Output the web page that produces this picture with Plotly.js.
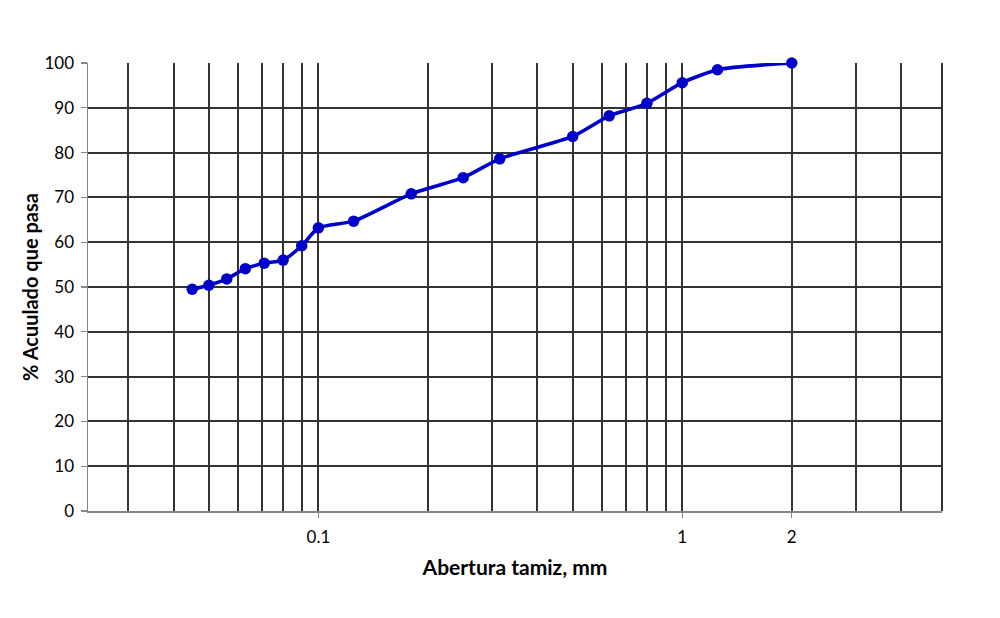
<!DOCTYPE html>
<html>
<head>
<meta charset="utf-8">
<script src="https://cdn.plot.ly/plotly-3.0.1.min.js"></script>
<style>html,body{margin:0;padding:0;background:#fff;}#chart{width:1000px;height:618px;}</style>
</head>
<body>
<div id="chart"></div>
<script>
// Sieve openings (mm) and cumulative % passing
const abertura = [0.045, 0.05, 0.056, 0.063, 0.071, 0.08, 0.09, 0.1, 0.125, 0.18, 0.25, 0.315, 0.5, 0.63, 0.8, 1, 1.25, 2];
const pasa     = [49.5, 50.4, 51.8, 54.1, 55.3, 56.0, 59.2, 63.2, 64.7, 70.8, 74.4, 78.6, 83.6, 88.2, 91.0, 95.6, 98.5, 100];
const xTickVals = [0.1, 1, 2];
const xTickText = ['0.1', '1', '2'];
const xMinorVals = [0.03, 0.04, 0.05, 0.06, 0.07, 0.08, 0.09, 0.2, 0.3, 0.4, 0.5, 0.6, 0.7, 0.8, 0.9, 3, 4];
const yTickVals = [0, 10, 20, 30, 40, 50, 60, 70, 80, 90, 100];

const FONT = 'Lato, "Open Sans", "Liberation Sans", sans-serif';
const GRID = '#333333';

const trace = {
  x: abertura, y: pasa, type: 'scatter', mode: 'lines+markers',
  line: {color: '#0000C8', width: 3.6, shape: 'spline', smoothing: 0.6},
  marker: {color: '#0000C8', size: 11.5},
  cliponaxis: false,
  hoverinfo: 'x+y'
};

const layout = {
  width: 1000, height: 618,
  margin: {l: 88, r: 58, t: 63, b: 107},
  paper_bgcolor: '#ffffff', plot_bgcolor: '#ffffff',
  showlegend: false,
  font: {family: FONT, size: 17, color: '#000'},
  xaxis: {
    type: 'log',
    range: [-1.6332, 0.714],
    tickvals: xTickVals, ticktext: xTickText,
    ticks: 'outside', ticklen: 5, tickcolor: '#868686', tickwidth: 1.3,
    ticklabelstandoff: 5,
    showgrid: true, gridcolor: GRID, gridwidth: 2,
    minor: {tickvals: xMinorVals, showgrid: true, gridcolor: GRID, gridwidth: 2, ticks: ''},
    showline: true, linecolor: '#868686', linewidth: 1.5,
    zeroline: false,
    tickfont: {family: FONT, size: 17, color: '#000'},
    title: {text: '<b>Abertura tamiz, mm</b>', font: {family: FONT, size: 21, color: '#000'}, standoff: 14}
  },
  yaxis: {
    range: [0, 100],
    tickvals: yTickVals,
    ticks: 'outside', ticklen: 6, tickcolor: '#868686', tickwidth: 1.3,
    ticklabelstandoff: 3,
    showgrid: true, gridcolor: GRID, gridwidth: 2,
    showline: true, linecolor: '#868686', linewidth: 1.5,
    zeroline: false,
    tickfont: {family: FONT, size: 17, color: '#000'},
    title: {text: '<b>% Acuulado que pasa</b>', font: {family: FONT, size: 20, color: '#000'}, standoff: 0}
  },
  shapes: [
    {type: 'line', xref: 'paper', yref: 'paper', x0: 1, x1: 1, y0: 0, y1: 1, line: {color: GRID, width: 2}}
  ]
};

Plotly.newPlot('chart', [trace], layout, {displayModeBar: false, staticPlot: true});
</script>
</body>
</html>
